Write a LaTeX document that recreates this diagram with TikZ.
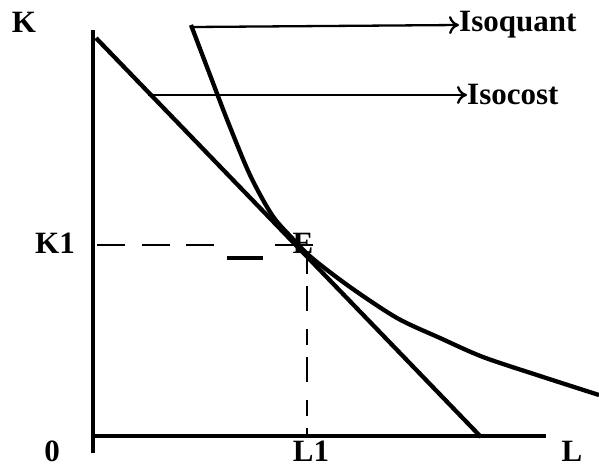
\documentclass[tikz,border=0pt]{standalone}
\usepackage{fontspec}
\setmainfont{Liberation Serif}
\usetikzlibrary{arrows.meta}
\begin{document}
\begin{tikzpicture}[x=1pt,y=-1pt,
  lbl/.style={font=\fontsize{31}{33}\selectfont\bfseries, inner sep=0pt},
  axis/.style={line width=4.6pt},
  curve/.style={line width=4.3pt, line join=round},
  pointer/.style={line width=2.3pt, -{To[length=10pt,width=18pt,line width=2.3pt]}},
  guide/.style={line width=1.5pt}]
\useasboundingbox (0,0) rectangle (599,468);
% axes
\coordinate (ytop) at (93,30);
\coordinate (ybot) at (93,453);
\coordinate (xl) at (93,436);
\coordinate (xr) at (546,436);
\draw[axis] (ytop) -- (ybot);
\draw[axis] (xl) -- (xr);
% isocost
\coordinate (c1) at (96,38);
\coordinate (c2) at (481,437);
\draw[curve] (c1) -- (c2);
% isoquant
\draw[curve] plot[smooth, tension=0.5] coordinates {(191,25) (210,75) (228,122) (250,175) (272,215) (292,238) (312,258) (350,287) (397,318) (440,338) (483,357) (540,376) (599,395)};
\coordinate (q1) at (193,27);
\coordinate (p1) at (148,95);
% labels
\node[lbl] (K) at (24,22) {K};
\node[lbl] (K1) at (55,243) {K1};
\node[lbl] (E) at (303,243) {E};
\node[lbl] (O) at (52,451) {0};
\node[lbl] (L1) at (311,451) {L1};
\node[lbl] (L) at (572,451) {L};
\node[lbl, anchor=west] (iq) at (459,25) {Isoquant};
\node[lbl, anchor=west] (ic) at (467,95) {Isocost};
% pointers
\draw[pointer] (q1) -- (iq.west);
\draw[pointer] (p1) -- (ic.west);
% guides
\coordinate (h1) at (97,245);
\coordinate (h2) at (214,245);
\coordinate (h3) at (275,245);
\coordinate (h4) at (313,245);
\draw[guide, dash pattern=on 28pt off 16.5pt] (h1) -- (h2);
\draw[guide] (h3) -- (h4);
\coordinate (t1) at (227,258);
\coordinate (t2) at (263,258);
\draw[line width=3.8pt] (t1) -- (t2);
\coordinate (v1) at (307,258);
\coordinate (v2) at (307,436);
\draw[guide, dash pattern=on 16pt off 12pt on 25pt off 18pt] (v1) -- (v2);
\end{tikzpicture}
\end{document}
